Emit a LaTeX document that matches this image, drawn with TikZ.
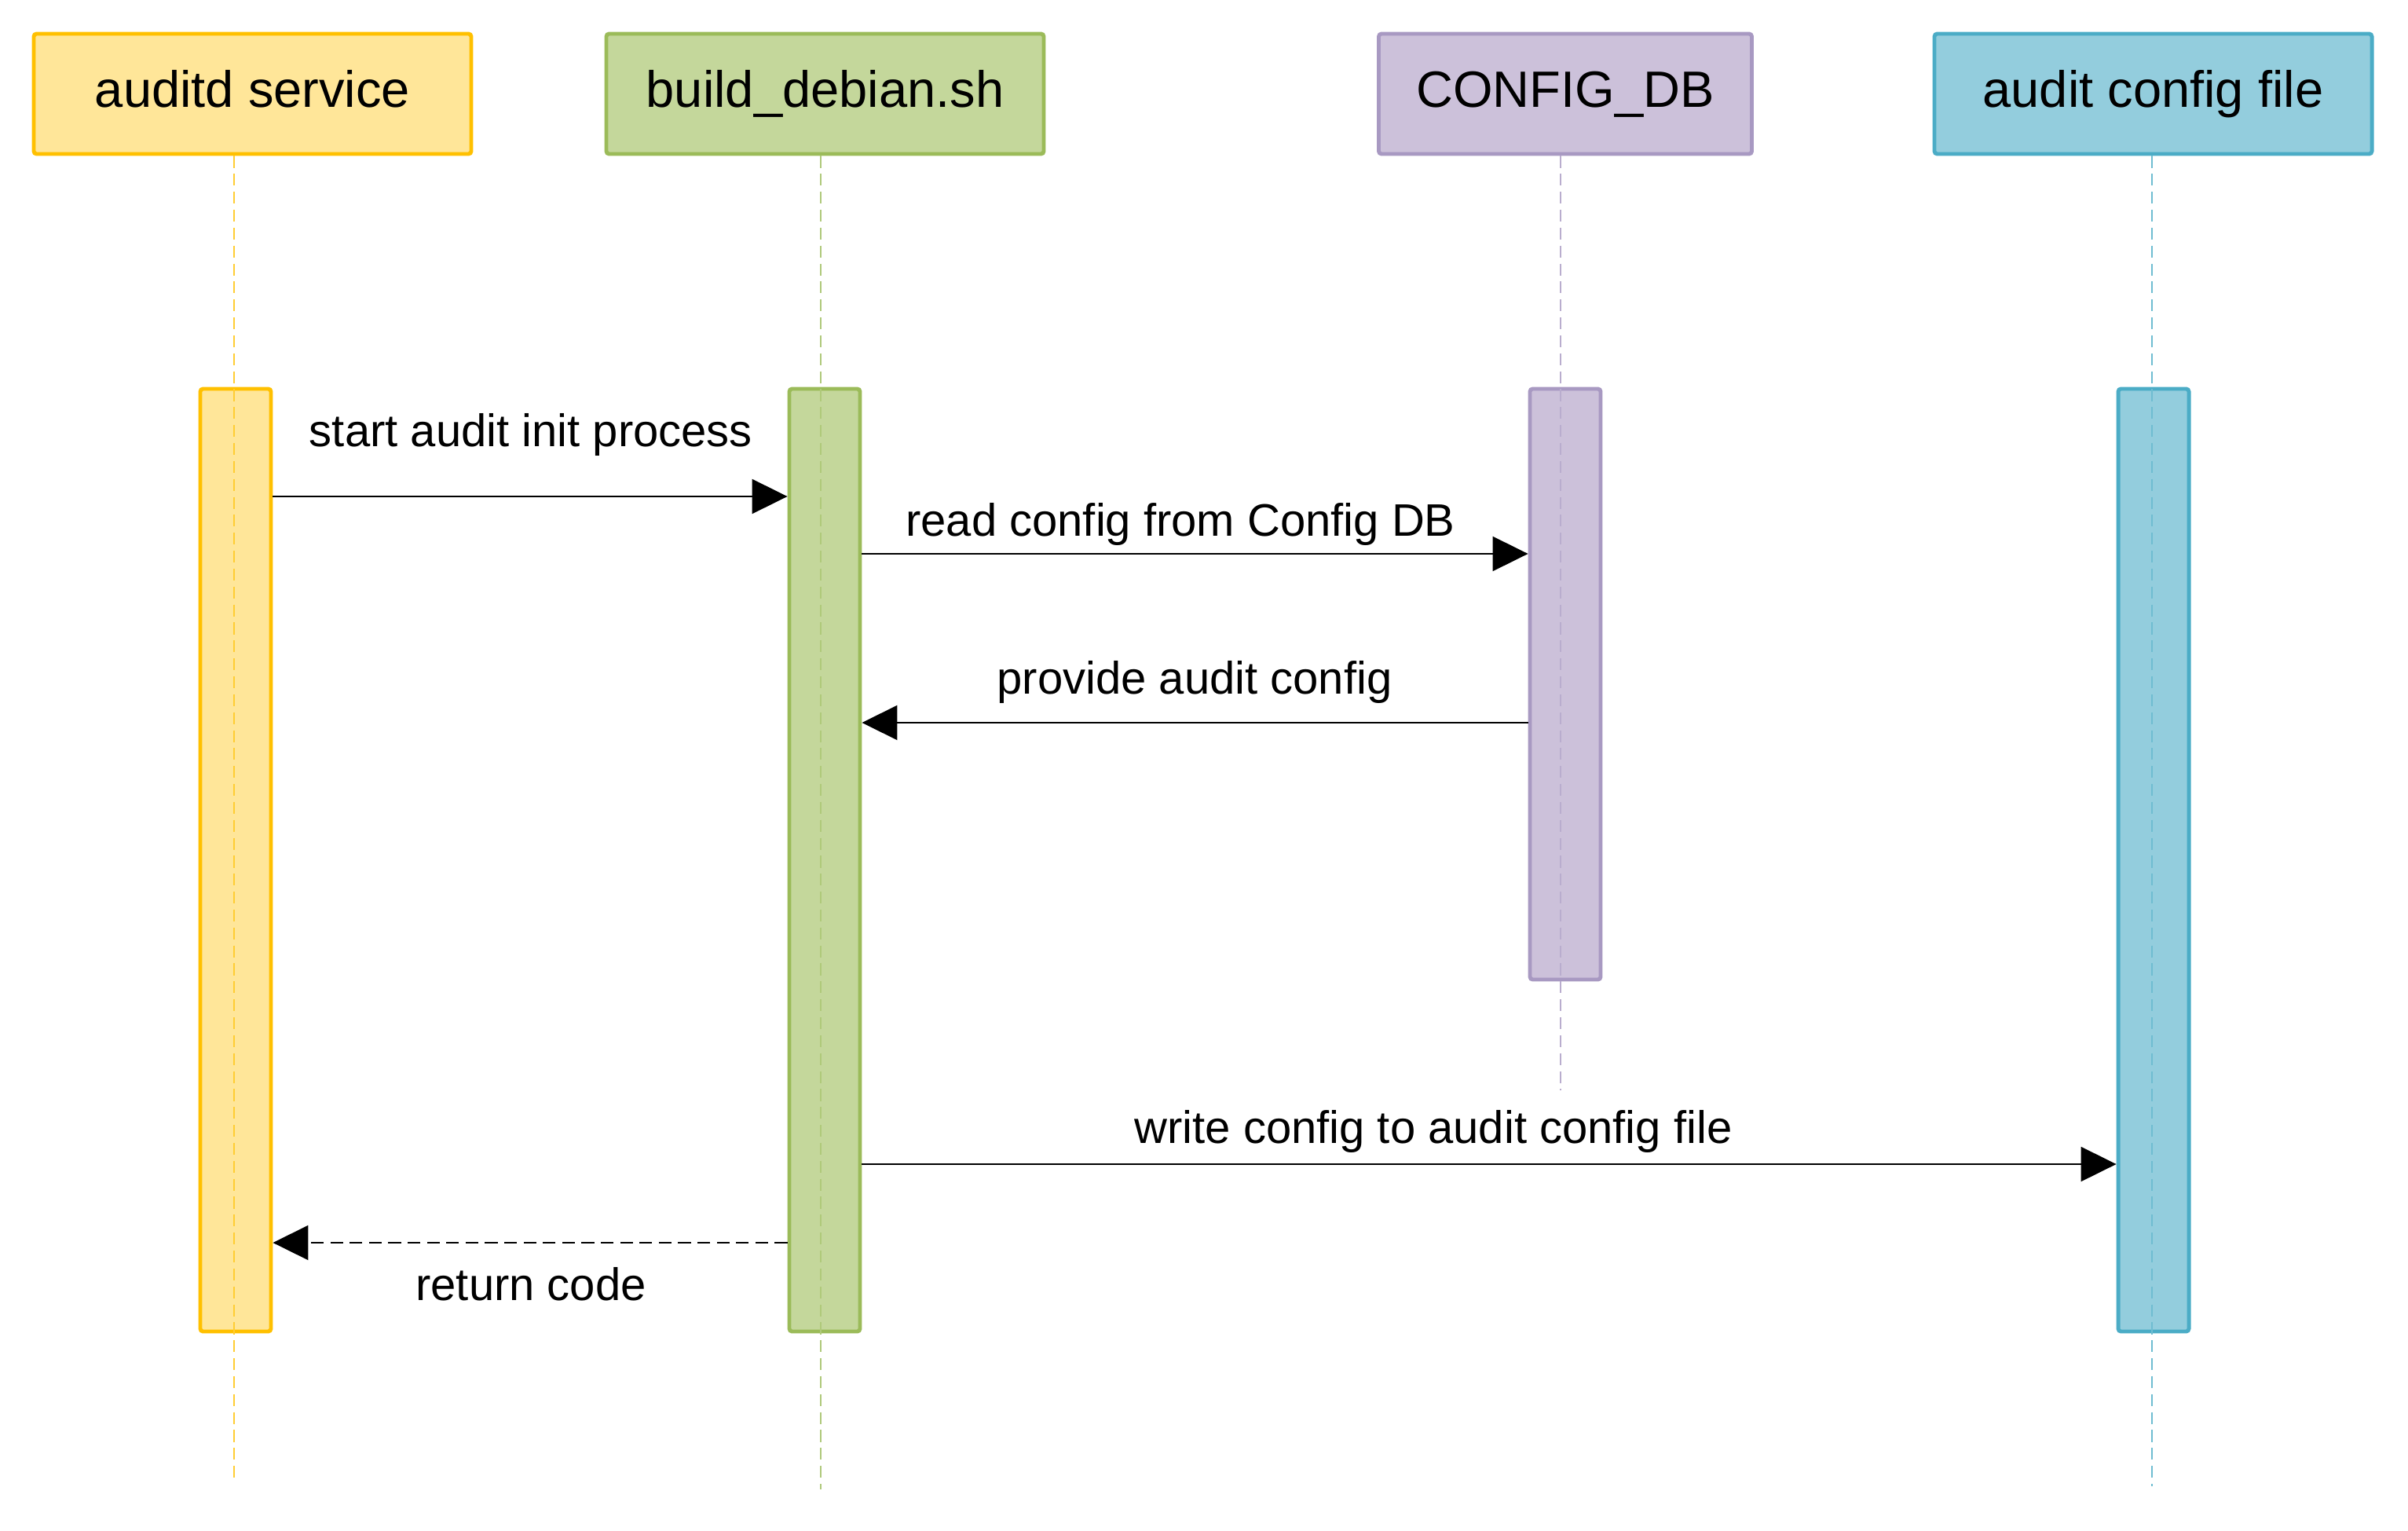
\documentclass[tikz,border=0pt]{standalone}
\usepackage{fontspec}
\setmainfont{Liberation Sans}
\usetikzlibrary{arrows.meta}
\definecolor{auditfill}{HTML}{FFE699}
\definecolor{auditline}{HTML}{FFC000}
\definecolor{buildfill}{HTML}{C4D79B}
\definecolor{buildline}{HTML}{9BBB59}
\definecolor{dbfill}{HTML}{CCC1DA}
\definecolor{dbline}{HTML}{A899C2}
\definecolor{filefill}{HTML}{93CDDD}
\definecolor{fileline}{HTML}{4BACC6}

\begin{document}
\begin{tikzpicture}[
  head/.style={draw=#1line,fill=#1fill,line width=1.4pt,rounded corners=1pt,
               minimum height=1.53cm,minimum width=5.57cm,inner sep=0pt,
               font=\fontsize{18.5}{22}\selectfont,text height=0.96em,text depth=0pt},
  bar/.style={draw=#1line,fill=#1fill,line width=1.4pt,rounded corners=1pt,
              minimum width=0.9cm,inner sep=0pt},
  life/.style={draw=#1line!80,line width=0.6pt,dash pattern=on 4.3pt off 2.2pt},
  msg/.style={line width=0.6pt,-{Triangle[length=0.45cm,width=0.44cm]}},
  reply/.style={msg,dash pattern=on 4.6pt off 2.4pt},
  lbl/.style={font=\fontsize{16.5}{20}\selectfont,anchor=base,inner sep=0pt},
]
\useasboundingbox (0,0) rectangle (30.66,-19.49);

\node[head=audit] (auditd) at (3.215,-1.195) {auditd service};
\node[head=build] (build) at (10.505,-1.195) {build\_debian.sh};
\node[head=db,minimum width=4.75cm] (configdb) at (19.93,-1.195) {CONFIG\_DB};
\node[head=file] (cfgfile) at (27.415,-1.195) {audit config file};

\node[bar=audit,minimum height=12cm] (auditbar) at (3.00,-10.95) {};
\node[bar=build,minimum height=12cm] (buildbar) at (10.50,-10.95) {};
\node[bar=db,minimum height=7.52cm] (dbbar) at (19.93,-8.71) {};
\node[bar=file,minimum height=12cm] (filebar) at (27.42,-10.95) {};

\coordinate (auditend) at (2.98,-18.85);
\coordinate (buildend) at (10.45,-18.96);
\coordinate (dbend) at (19.87,-13.88);
\coordinate (fileend) at (27.40,-18.92);
\draw[life=audit] (auditd.south -| auditend) -- (auditend);
\draw[life=build] (build.south -| buildend) -- (buildend);
\draw[life=db] (configdb.south -| dbend) -- (dbend);
\draw[life=file] (cfgfile.south -| fileend) -- (fileend);

\draw[msg] (auditbar.east |- 0,-6.32) -- (buildbar.west |- 0,-6.32);
\node[lbl] (startlbl) at (6.76,-5.68) {start audit init process};
\draw[msg] (buildbar.east |- 0,-7.05) -- (dbbar.west |- 0,-7.05);
\node[lbl] (readlbl) at (15.03,-6.82) {read config from Config DB};
\draw[msg] (dbbar.west |- 0,-9.20) -- (buildbar.east |- 0,-9.20);
\node[lbl] (providelbl) at (15.21,-8.83) {provide audit config};
\draw[msg] (buildbar.east |- 0,-14.82) -- (filebar.west |- 0,-14.82);
\node[lbl] (writelbl) at (18.25,-14.55) {write config to audit config file};
\draw[reply] (buildbar.west |- 0,-15.82) -- (auditbar.east |- 0,-15.82);
\node[lbl] (returnlbl) at (6.76,-16.55) {return code};
\end{tikzpicture}
\end{document}
